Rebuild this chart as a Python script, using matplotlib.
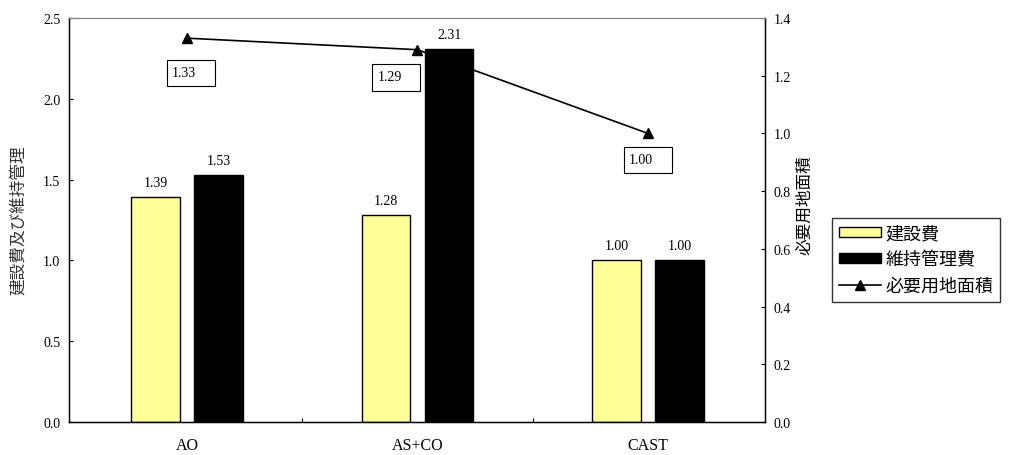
import numpy as np
import matplotlib
matplotlib.use('Agg')
import matplotlib.pyplot as plt
from matplotlib.patches import Rectangle, Patch
from matplotlib.lines import Line2D
from matplotlib.transforms import ScaledTranslation

plt.rcParams['font.family'] = ['Liberation Serif', 'Noto Sans CJK JP']

# 処理方式ごとの比較 (CAST = 1.00)
methods = ['AO', 'AS+CO', 'CAST']
construction = [1.39, 1.28, 1.00]   # 建設費
maintenance = [1.53, 2.31, 1.00]    # 維持管理費
land_area = [1.33, 1.29, 1.00]      # 必要用地面積

# ラベル枠の位置 (点からのずれ, px)
box_offsets = [(-20, -48), (-45, -41), (-24, -40)]

fig = plt.figure(figsize=(10.14, 4.56), dpi=100)
ax = fig.add_axes([0.0685, 0.0724, 0.6864, 0.886])
ax2 = ax.twinx()

x = np.arange(len(methods))
w = 0.21
off = 0.137
b1 = ax.bar(x - off, construction, w, color='#FFFF99', edgecolor='black', linewidth=1.0, zorder=2)
b2 = ax.bar(x + off, maintenance, w, color='black', edgecolor='black', linewidth=1.0, zorder=2)

for rects, vals in ((b1, construction), (b2, maintenance)):
    for r, v in zip(rects, vals):
        ax.annotate('%.2f' % v, xy=(r.get_x() + r.get_width() / 2, v),
                    xytext=(0, 10.5), textcoords='offset points',
                    ha='center', va='center', fontsize=10)

ax.set_xlim(-0.51, 2.51)
ax.set_ylim(0, 2.5)
ax.set_yticks(np.arange(0, 2.51, 0.5))
ax.yaxis.set_major_formatter(matplotlib.ticker.FormatStrFormatter('%.1f'))
ax.set_xticks(x)
ax.set_xticklabels(methods, fontsize=11.5)
ax.set_xticks([0.5, 1.5], minor=True)
ax.tick_params(axis='x', which='major', length=0, pad=11)
ax.tick_params(axis='x', which='minor', direction='in', length=3, width=0.8)
ax.tick_params(axis='y', direction='in', length=3, width=0.8, labelsize=10, pad=6.5)
ax.set_ylabel('建設費及び維持管理', fontsize=12, color='#333333')
ax.yaxis.set_label_coords(-0.061, 0.5025)

for s in ('left', 'bottom'):
    ax.spines[s].set_linewidth(1.0)
ax.spines['top'].set_color('#808080')
ax2.spines['top'].set_color('#808080')
ax2.spines['right'].set_linewidth(1.0)

ax2.plot(x, land_area, color='black', linewidth=1.2, marker='^', markersize=6.5, zorder=3)
ax2.set_ylim(0, 1.4)
ax2.set_yticks(np.arange(0, 1.41, 0.2))
ax2.yaxis.set_major_formatter(matplotlib.ticker.FormatStrFormatter('%.1f'))
ax2.tick_params(axis='y', direction='in', length=3, width=0.8, labelsize=10, pad=6)
ax2.set_ylabel('必要用地面積', fontsize=12, rotation=90)
ax2.yaxis.set_label_coords(1.045, 0.54)

# 必要用地面積の値を枠付きで表示
for xi, v, (dx, dy) in zip(x, land_area, box_offsets):
    tr = fig.dpi_scale_trans + ScaledTranslation(xi, v, ax2.transData)
    ax2.add_patch(Rectangle((dx / 100, dy / 100), 0.48, 0.265, transform=tr,
                            facecolor='white', edgecolor='black', linewidth=0.8,
                            clip_on=False, zorder=4))
    ax2.text((dx + 5) / 100, (dy + 14) / 100, '%.2f' % v, transform=tr,
             ha='left', va='center', fontsize=10, zorder=5)

handles = [Patch(facecolor='#FFFF99', edgecolor='black', linewidth=1.0),
           Patch(facecolor='black', edgecolor='black'),
           Line2D([], [], color='black', linewidth=1.2, marker='^', markersize=6.5)]
leg = fig.legend(handles, ['建設費', '維持管理費', '必要用地面積'],
                 loc='upper left', bbox_to_anchor=(0.8205, 0.5197),
                 fontsize=13, frameon=True, fancybox=False, edgecolor='black',
                 handlelength=2.3, handleheight=0.5, handletextpad=0.25,
                 labelspacing=0.5, borderpad=0.4, borderaxespad=0)
leg.get_frame().set_linewidth(1.0)

fig.savefig('out.png', dpi=100)
